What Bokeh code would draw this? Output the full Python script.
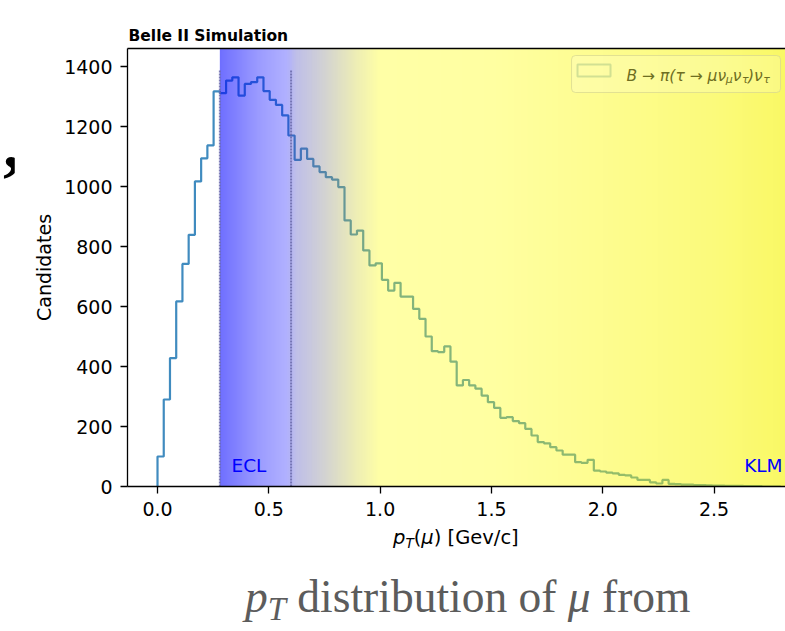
import numpy as np
from bokeh.plotting import figure
from bokeh.models import (Range1d, LinearAxis, FixedTicker, NumeralTickFormatter,
                          Label, BoxAnnotation, Div)
from bokeh.layouts import column, row
from bokeh.embed import file_html
from bokeh.resources import INLINE

# ---------------- data ----------------
bin_lo = 0.0
bin_hi = 2.8
counts = [100, 290, 428, 617, 742, 839, 1017, 1094, 1137, 1317,
          1311, 1353, 1364, 1303, 1342, 1348, 1364, 1318, 1289, 1272,
          1237, 1170, 1089, 1126, 1092, 1067, 1048, 1031, 1023, 998,
          887, 840, 853, 787, 737, 744, 689, 653, 679, 633,
          633, 592, 559, 500, 451, 448, 467, 416, 337, 355,
          337, 326, 303, 281, 262, 229, 231, 218, 211, 192,
          170, 148, 144, 131, 120, 106, 106, 81, 79, 89,
          53, 50, 46, 44, 39, 37, 30, 22, 22, 14,
          10, 22, 9, 8, 6, 6, 5, 5, 4, 3,
          3, 2, 2, 2, 1, 1, 1, 0, 0, 0]
x_ticks = [0.0, 0.5, 1.0, 1.5, 2.0, 2.5]
y_ticks = [0, 200, 400, 600, 800, 1000, 1200, 1400]
region_lines_x = [0.28, 0.6]
region_lines_top = 1390
ecl_start = 0.28

# background gradient stops (style)
stop_x = [0.28, 0.45, 0.58, 0.62, 0.75, 0.90, 1.00, 1.50, 2.00, 2.50, 2.90]
stop_r = [0, 0, 0, 64, 128, 210, 255, 255, 252, 248, 245]
stop_g = [0, 0, 0, 64, 128, 210, 255, 255, 250, 246, 243]
stop_b = [255, 255, 255, 192, 128, 40, 0, 0, 0, 0, 0]
stop_a = [0.57, 0.40, 0.31, 0.34, 0.35, 0.35, 0.35, 0.37, 0.44, 0.52, 0.63]

X0, X1 = -0.1348, 2.821
Y0, Y1 = 0, 1460
LEFT_PAD = 14  # width of the narrow column holding the stray comma

p = figure(width=785 - LEFT_PAD, height=522, output_backend="svg",
           toolbar_location=None,
           x_range=Range1d(X0, X1), y_range=Range1d(Y0, Y1),
           min_border_left=127 - LEFT_PAD, min_border_right=0, min_border_top=48,
           min_border_bottom=36)
p.outline_line_color = None
p.xgrid.visible = False
p.ygrid.visible = False
p.background_fill_color = "white"
p.border_fill_color = "white"

p.title.text = "Belle II Simulation"
p.title.align = "left"
p.title.offset = 1
p.title.standoff = 8
p.title.text_font = "DejaVu Sans"
p.title.text_font_style = "bold"
p.title.text_font_size = "15.5px"
p.title.text_color = "black"

# histogram outline (step)
n = len(counts)
edges = np.linspace(bin_lo, bin_hi, n + 1)
hx = np.repeat(edges, 2)
hy = np.concatenate([[0], np.repeat(counts, 2), [0]])
p.line(hx, hy, line_color="#1f77b4", line_alpha=0.85, line_width=2.2)

# gradient overlay
N = 700
gx = np.linspace(ecl_start, 2.9, N)
img = np.empty((2, N), dtype=np.uint32)
view = img.view(dtype=np.uint8).reshape((2, N, 4))
view[:, :, 0] = np.interp(gx, stop_x, stop_r).astype(np.uint8)
view[:, :, 1] = np.interp(gx, stop_x, stop_g).astype(np.uint8)
view[:, :, 2] = np.interp(gx, stop_x, stop_b).astype(np.uint8)
view[:, :, 3] = (np.interp(gx, stop_x, stop_a) * 255).astype(np.uint8)
p.image_rgba(image=[img], x=ecl_start, y=0, dw=2.9 - ecl_start, dh=1500)

# region lines
p.segment(x0=region_lines_x, y0=[0, 0], x1=region_lines_x,
          y1=[region_lines_top] * 2, line_color="#6a6aa8", line_alpha=0.85,
          line_width=2, line_dash="2 1")

# axes
xa = p.xaxis[0]
xa.ticker = FixedTicker(ticks=x_ticks)
xa.formatter = NumeralTickFormatter(format="0.0")
ya = p.yaxis[0]
ya.ticker = FixedTicker(ticks=y_ticks)
ya.axis_label = "Candidates"
for ax in (xa, ya):
    ax.major_label_text_font = "DejaVu Sans"
    ax.major_label_text_font_size = "19px"
    ax.major_label_text_color = "black"
    ax.axis_line_color = "black"
    ax.axis_line_width = 1.3
    ax.major_tick_line_color = "black"
    ax.major_tick_line_width = 1.3
    ax.major_tick_out = 7
    ax.major_tick_in = 0
    ax.minor_tick_line_color = None
ya.axis_label_text_font = "DejaVu Sans"
ya.axis_label_text_font_size = "19px"
ya.axis_label_text_font_style = "normal"
ya.axis_label_text_color = "black"
ya.axis_label_standoff = 6
ya.major_label_standoff = 8
xa.major_label_standoff = 8

top = LinearAxis(ticker=FixedTicker(ticks=[]), major_label_text_font_size="0px",
                 axis_line_color="black", axis_line_width=1.3,
                 major_tick_line_color=None, minor_tick_line_color=None)
p.add_layout(top, "above")

def px2x(px):
    return X0 + (px - 127) / 222.6

def py2y(py):
    return (486 - py) / 0.3

# region labels
p.add_layout(Label(x=px2x(231), y=py2y(465), text="ECL", text_font="DejaVu Sans",
                   text_font_size="18.5px", text_color="#0000ff",
                   text_baseline="middle", text_align="left"))
p.add_layout(Label(x=px2x(782), y=py2y(465), text="KLM", text_font="DejaVu Sans",
                   text_font_size="18.5px", text_color="#0000ff",
                   text_baseline="middle", text_align="right"))

# legend
p.add_layout(BoxAnnotation(left=px2x(571), right=px2x(780), top=py2y(55),
                           bottom=py2y(92), fill_color="white", fill_alpha=0.18,
                           line_color="#d6d690", line_alpha=0.7, line_width=1,
                           border_radius=4))
p.add_layout(BoxAnnotation(left=px2x(577), right=px2x(610), top=py2y(64),
                           bottom=py2y(76), fill_color=None, fill_alpha=0,
                           line_color="#6c9e6c", line_width=2))
lg0 = px2x(626)
lb = py2y(75)
lpieces = [("B → π(τ → μν", 0.0, "15.5px", 0),
           ("μ", 99.3, "11px", 4),
           ("ν", 106.2, "15.5px", 0),
           ("τ", 115.4, "11px", 4),
           (")ν", 121.5, "15.5px", 0),
           ("τ", 136.7, "11px", 4)]
for t, dx, sz, dpy in lpieces:
    p.add_layout(Label(x=lg0, y=lb - dpy / 0.3, x_offset=dx, text=t,
                       text_font="DejaVu Sans", text_font_style="italic",
                       text_font_size=sz, text_color="#6e6e22",
                       text_baseline="alphabetic", text_align="left"))

# stray comma from the slide (left edge)
comma = Div(text=('<div style="font-family:\'Liberation Serif\',serif;font-weight:bold;'
                  'font-size:72px;line-height:72px;padding-top:108px;padding-left:3px;'
                  'color:black;">,</div>'),
            width=LEFT_PAD, height=522, margin=(0, 0, 0, 0))

xlabel = Div(text=('<div style="font-family:\'DejaVu Sans\',sans-serif;font-size:19.5px;'
                   'line-height:19px;padding-top:6px;padding-left:393px;color:black;'
                   'white-space:nowrap;"><i>p</i><sub style="font-size:0.7em;'
                   'vertical-align:-0.3em;line-height:0;"><i>T</i></sub>(<i>μ</i>) '
                   '[Gev/c]</div>'),
             width=785, height=34, margin=(0, 0, 0, 0))

caption = Div(text=('<div style="font-family:\'Liberation Serif\',serif;font-size:45.5px;'
                    'color:#5c5c5c;padding-left:245px;padding-top:18px;line-height:45px;'
                    'white-space:nowrap;"><i>p</i><sub style="font-size:0.72em;'
                    'vertical-align:-0.25em;line-height:0;"><i>T</i></sub> distribution of '
                    '<i>μ</i> from</div>'),
              width=785, height=75, margin=(0, 0, 0, 0))

layout = column(row(comma, p, spacing=0), xlabel, caption, spacing=0)
open("out.html", "w").write(file_html(layout, INLINE))
